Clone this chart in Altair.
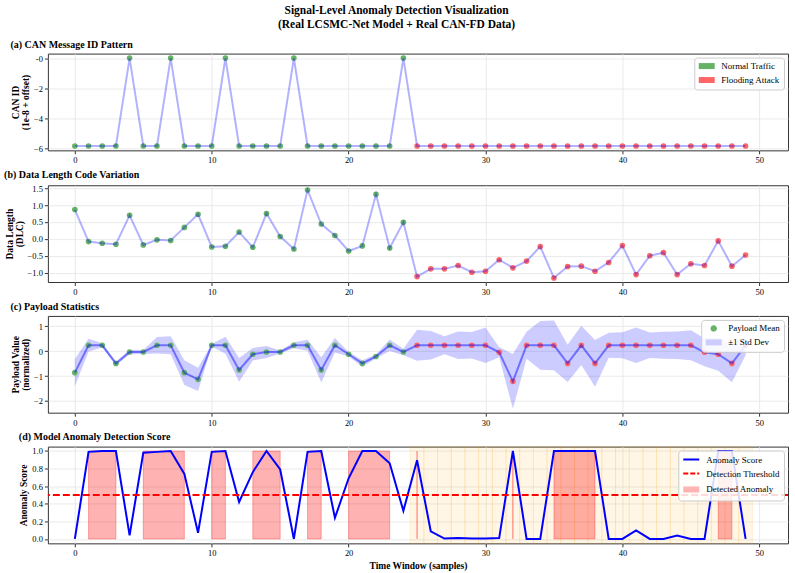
import altair as alt
import pandas as pd

# ---------------- data ----------------
t = list(range(50))
traffic = ["Normal Traffic"] * 25 + ["Flooding Attack"] * 25
can_id = [-5.85, -5.85, -5.85, -5.85, 0.0, -5.85, -5.85, 0.0, -5.85, -5.85,
          -5.85, 0.0, -5.85, -5.85, -5.85, -5.85, 0.0, -5.85, -5.85, -5.85,
          -5.85, -5.85, -5.85, -5.85, 0.0, -5.85, -5.85, -5.85, -5.85, -5.85,
          -5.85, -5.85, -5.85, -5.85, -5.85, -5.85, -5.85, -5.85, -5.85, -5.85,
          -5.85, -5.85, -5.85, -5.85, -5.85, -5.85, -5.85, -5.85, -5.85, -5.85]
dlc = [0.87, -0.08, -0.13, -0.16, 0.70, -0.18, -0.03, -0.05, 0.34, 0.73,
       -0.24, -0.22, 0.20, -0.25, 0.75, 0.07, -0.30, 1.45, 0.44, 0.10,
       -0.36, -0.21, 1.32, -0.27, 0.49, -1.12, -0.89, -0.89, -0.79, -0.99,
       -0.96, -0.62, -0.86, -0.66, -0.23, -1.16, -0.82, -0.81, -0.96, -0.70,
       -0.20, -1.06, -0.50, -0.41, -1.06, -0.74, -0.79, -0.06, -0.81, -0.48]
payload_mean = [-0.86, 0.24, 0.24, -0.49, -0.03, -0.03, 0.24, 0.24, -0.86, -1.13,
                0.24, 0.24, -0.75, -0.12, -0.03, -0.03, 0.24, 0.24, -0.75, 0.24,
                -0.12, -0.49, -0.21, 0.24, -0.03, 0.24, 0.24, 0.24, 0.24, 0.24,
                0.24, -0.04, -1.21, 0.24, 0.24, 0.24, -0.49, 0.24, -0.49, 0.24,
                0.24, 0.24, 0.24, 0.24, 0.24, 0.24, -0.04, -0.12, -0.49, 0.24]
payload_std = [0.55, 0.26, 0.08, 0.07, 0.09, 0.08, 0.33, 0.36, 0.50, 0.47,
               0.05, 0.34, 0.48, 0.25, 0.24, 0.06, 0.12, 0.22, 0.51, 0.29,
               0.09, 0.13, 0.08, 0.23, 0.13, 0.62, 0.57, 0.36, 0.55, 0.53,
               0.71, 0.20, 1.10, 0.54, 0.98, 1.00, 0.75, 0.79, 0.94, 0.50,
               0.52, 0.71, 0.51, 0.54, 0.55, 0.60, 0.56, 0.66, 0.76, 0.40]
score = [0.0, 0.99, 1.0, 1.0, 0.04, 0.98, 0.99, 1.0, 0.74, 0.07,
         0.99, 1.0, 0.42, 0.76, 1.0, 0.79, 0.0, 0.99, 1.0, 0.24,
         0.69, 1.0, 1.0, 0.86, 0.32, 0.895, 0.087, 0.005, 0.01, 0.005,
         0.005, 0.01, 1.0, 0.0, 0.0, 1.0, 1.0, 1.0, 1.0, 0.0,
         0.0, 0.098, 0.0, 0.0, 0.04, 0.0, 0.0, 1.0, 1.0, 0.0]
span_start = [1, 5, 10, 13, 17, 20, 25, 32, 35, 47]
span_end = [3, 8, 11, 15, 18, 23, 25, 32, 38, 48]
attack_windows = list(range(25, 50))
threshold = 0.5
x_ticks = [0, 10, 20, 30, 40, 50]

# ---------------- style ----------------
FONT = "Liberation Serif"
W, H = 742, 97
GREEN = "#66b366"
RED = "#ff6666"
PATCH = "M-2,-0.75L2,-0.75L2,0.75L-2,0.75Z"
DOT = "M0.8,0A0.8,0.8 0 1,1 -0.8,0A0.8,0.8 0 1,1 0.8,0Z"
STROKE = "M-2,0L2,0"

df = pd.DataFrame({
    "t": t, "traffic": traffic, "can": can_id, "dlc": dlc,
    "pm": payload_mean, "ps": payload_std, "score": score,
})
df["col"] = df["traffic"].map({"Normal Traffic": GREEN, "Flooding Attack": RED})
df["lo"] = df["pm"] - df["ps"]
df["hi"] = df["pm"] + df["ps"]

xscale = alt.Scale(domain=[-1.97, 52.1], nice=False, zero=False)


def X(field, title=None):
    return alt.X(field, type="quantitative", scale=xscale,
                 axis=alt.Axis(values=x_ticks, format="d", title=title))


def Y(field, dom, values, fmt, title, expr=None):
    kw = dict(values=values, format=fmt, title=title)
    if expr:
        kw["labelExpr"] = expr
    return alt.Y(field, type="quantitative",
                 scale=alt.Scale(domain=dom, nice=False, zero=False),
                 axis=alt.Axis(**kw))


def ptitle(txt):
    return alt.TitleParams(txt, anchor="start", font=FONT, fontSize=10,
                           fontWeight="bold", color="black", offset=4)


legend_common = dict(title=None, orient="top-right", offset=4, symbolSize=64,
                     labelFont=FONT, labelFontSize=9, labelColor="black",
                     padding=4, fillColor="rgba(255,255,255,0.85)",
                     strokeColor="#cccccc", cornerRadius=3, rowPadding=4,
                     symbolOffset=4, labelOffset=10)

# ---------------- panel (a) ----------------
ya = dict(dom=[-6.14, 0.3], values=[-6, -4, -2, 0], fmt="d",
          title=["CAN ID", "(1e-8 + offset)"],
          expr="datum.value == 0 ? '-0' : format(datum.value, 'd')")
a_pts = alt.Chart(df).mark_point(filled=True, size=32, opacity=1).encode(
    x=X("t"), y=Y("can", **ya), color=alt.Color("col:N", scale=None))
a_line = alt.Chart(df).mark_line(color="blue", opacity=0.3, strokeWidth=2).encode(
    x=X("t"), y=Y("can", **ya))
leg_a_df = pd.DataFrame({"t": [-50, -50], "can": [-3, -3],
                         "ka": ["Normal Traffic", "Flooding Attack"]})
leg_a_dom = ["Normal Traffic", "Flooding Attack"]
leg_a_legend = alt.Legend(symbolStrokeWidth=0, **legend_common)
a_leg = alt.Chart(leg_a_df).mark_point(filled=True, clip=True, size=64, opacity=1).encode(
    x=X("t"), y=Y("can", **ya),
    fill=alt.Fill("ka:N", scale=alt.Scale(domain=leg_a_dom, range=[GREEN, RED]),
                  legend=leg_a_legend),
    shape=alt.Shape("ka:N", scale=alt.Scale(domain=leg_a_dom, range=[PATCH, PATCH]),
                    legend=leg_a_legend),
)
pa = alt.layer(a_pts, a_line, a_leg).properties(
    width=W, height=H, title=ptitle("(a) CAN Message ID Pattern"))

# ---------------- panel (b) ----------------
yb = dict(dom=[-1.28, 1.59], values=[-1.0, -0.5, 0.0, 0.5, 1.0, 1.5], fmt=".1f",
          title=["Data Length", "(DLC)"])
b_pts = alt.Chart(df).mark_point(filled=True, size=32, opacity=1).encode(
    x=X("t"), y=Y("dlc", **yb), color=alt.Color("col:N", scale=None))
b_line = alt.Chart(df).mark_line(color="blue", opacity=0.3, strokeWidth=2).encode(
    x=X("t"), y=Y("dlc", **yb))
pb = alt.layer(b_pts, b_line).properties(
    width=W, height=H, title=ptitle("(b) Data Length Code Variation"))

# ---------------- panel (c) ----------------
yc = dict(dom=[-2.47, 1.42], values=[-2, -1, 0, 1], fmt="d",
          title=["Payload Value", "(normalized)"])
c_band = alt.Chart(df).mark_area(color="blue", opacity=0.2).encode(
    x=X("t"), y=Y("lo", **yc), y2="hi")
c_pts = alt.Chart(df).mark_point(filled=True, size=32, opacity=1).encode(
    x=X("t"), y=Y("pm", **yc), color=alt.Color("col:N", scale=None))
c_line = alt.Chart(df).mark_line(color="blue", opacity=0.45, strokeWidth=2).encode(
    x=X("t"), y=Y("pm", **yc))
leg_c_dom = ["Payload Mean", "\u00b11 Std Dev"]
leg_c_df = pd.DataFrame({"t": [-50, -50], "pm": [0, 0], "kc": leg_c_dom})
leg_c_legend = alt.Legend(symbolStrokeWidth=0, **legend_common)
c_leg = alt.Chart(leg_c_df).mark_point(filled=True, clip=True, size=64, opacity=1).encode(
    x=X("t"), y=Y("pm", **yc),
    fill=alt.Fill("kc:N", scale=alt.Scale(domain=leg_c_dom, range=[GREEN, "#ccccff"]),
                  legend=leg_c_legend),
    shape=alt.Shape("kc:N", scale=alt.Scale(domain=leg_c_dom, range=[DOT, PATCH]),
                    legend=leg_c_legend),
)
pc = alt.layer(c_band, c_pts, c_line, c_leg).properties(
    width=W, height=H, title=ptitle("(c) Payload Statistics"))

# ---------------- panel (d) ----------------
yd = dict(dom=[-0.05, 1.05], values=[0.0, 0.2, 0.4, 0.6, 0.8, 1.0], fmt=".1f",
          title="Anomaly Score")
XT = "Time Window (samples)"
att_df = pd.DataFrame({"w": attack_windows})
att_df["x0"] = att_df["w"] - 0.5
att_df["x1"] = att_df["w"] + 0.5
d_att = alt.Chart(att_df).mark_rect(
    fill="orange", fillOpacity=0.1, stroke="orange", strokeOpacity=0.12,
    strokeWidth=1).encode(x=X("x0", XT), x2="x1", y=alt.value(0), y2=alt.value(H))
span_df = pd.DataFrame({"s": span_start, "e": span_end, "b": [0.0] * len(span_start),
                        "top": [1.0] * len(span_start)})
d_span = alt.Chart(span_df).mark_rect(
    fill="red", fillOpacity=0.3, stroke="red", strokeOpacity=0.3, strokeWidth=1).encode(
    x=X("s", XT), x2="e", y=Y("b", **yd), y2="top")
d_line = alt.Chart(df).mark_line(color="blue", strokeWidth=2).encode(
    x=X("t", XT), y=Y("score", **yd))
thr_df = pd.DataFrame({"thr": [threshold]})
d_thr = alt.Chart(thr_df).mark_rule(color="red", strokeDash=[7, 3], strokeWidth=2).encode(
    y=Y("thr", **yd))
leg_d_dom = ["Anomaly Score", "Detection Threshold", "Detected Anomaly"]
leg_d_df = pd.DataFrame({"t": [-50] * 3, "score": [0.5] * 3, "kd": leg_d_dom})
leg_d_legend = alt.Legend(symbolStrokeWidth=2, **legend_common)
d_leg = alt.Chart(leg_d_df).mark_point(clip=True, size=64, opacity=1, strokeWidth=2).encode(
    x=X("t", XT), y=Y("score", **yd),
    fill=alt.Fill("kd:N", scale=alt.Scale(domain=leg_d_dom,
                                          range=["transparent", "transparent", "#ffb3b3"]),
                  legend=leg_d_legend),
    stroke=alt.Stroke("kd:N", scale=alt.Scale(domain=leg_d_dom,
                                              range=["blue", "red", "transparent"]),
                      legend=leg_d_legend),
    shape=alt.Shape("kd:N", scale=alt.Scale(domain=leg_d_dom, range=[STROKE, STROKE, PATCH]),
                    legend=leg_d_legend),
    strokeDash=alt.StrokeDash("kd:N", scale=alt.Scale(domain=leg_d_dom,
                                                      range=[[1, 0], [5, 2], [1, 0]]),
                              legend=leg_d_legend),
)
pd_ = alt.layer(d_att, d_span, d_line, d_thr, d_leg).properties(
    width=W, height=H, title=ptitle("(d) Model Anomaly Detection Score"))

chart = alt.vconcat(pa, pb, pc, pd_, spacing=4).resolve_scale(
    fill="independent", shape="independent", stroke="independent",
    strokeDash="independent",
).resolve_legend(
    fill="independent", shape="independent", stroke="independent",
    strokeDash="independent",
).properties(
    title=alt.TitleParams(
        ["Signal-Level Anomaly Detection Visualization",
         "(Real LCSMC-Net Model + Real CAN-FD Data)"],
        anchor="middle", font=FONT, fontSize=11.5, fontWeight="bold",
        color="black", lineHeight=14, offset=9),
    padding={"left": 3, "top": 4, "right": 5, "bottom": 5},
).configure_view(stroke="#333333", strokeWidth=1).configure_axis(
    labelFont=FONT, labelFontSize=8.5, labelColor="black", titleFont=FONT,
    titleFontSize=9.5, titleFontWeight="bold", titleColor="black",
    gridColor="#e5e5e5", gridWidth=0.8, tickColor="#333333", tickSize=3.5,
    domain=False, labelPadding=2, titlePadding=3, titleLineHeight=10,
).configure_legend(
    labelFont=FONT, labelFontSize=9, labelColor="black",
)

chart.save("out.html", embed_options={"renderer": "svg", "actions": False})
